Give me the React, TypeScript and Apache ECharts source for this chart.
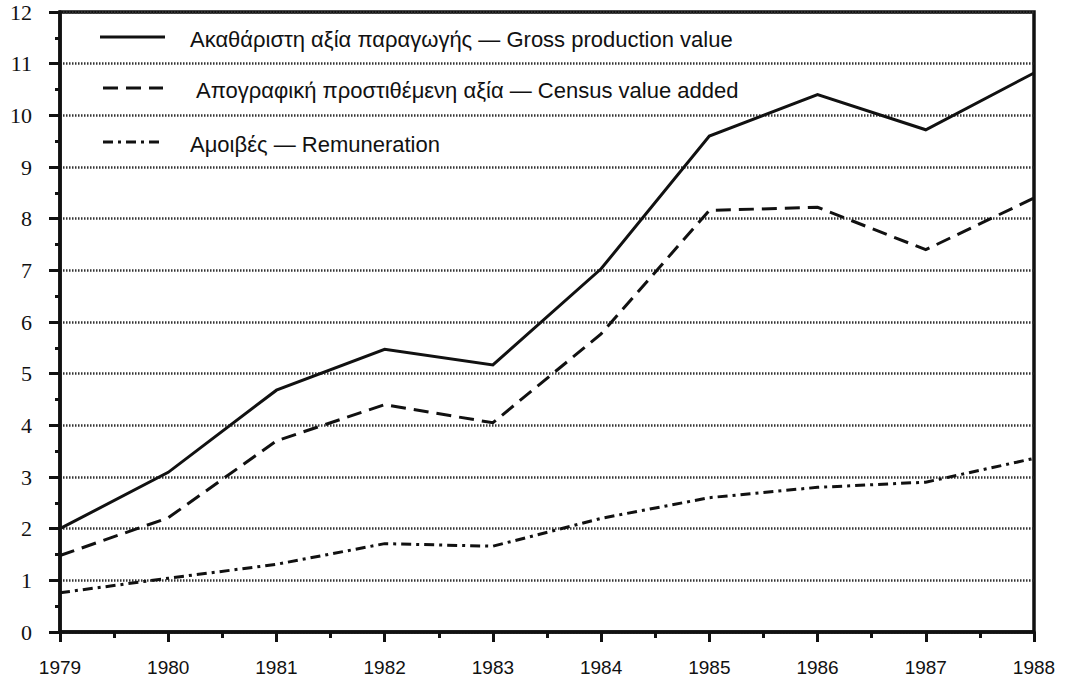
import React, { useEffect, useRef } from "react";
import * as echarts from "echarts";

const years = [1979, 1980, 1981, 1982, 1983, 1984, 1985, 1986, 1987, 1988];
const grossProduction = [2.0, 3.09, 4.68, 5.47, 5.17, 7.03, 9.6, 10.4, 9.72, 10.82];
const censusValueAdded = [1.48, 2.21, 3.7, 4.4, 4.05, 5.77, 8.16, 8.22, 7.4, 8.4];
const remuneration = [0.76, 1.04, 1.31, 1.71, 1.66, 2.2, 2.6, 2.8, 2.9, 3.36];
const seriesNames = [
  "Ακαθάριστη αξία παραγωγής — Gross production value",
  "Απογραφική προστιθέμενη αξία — Census value added",
  "Αμοιβές — Remuneration",
];
const yTickMin = 0;
const yTickMax = 12;

const INK = "#111";
const DASH = [15, 8];
const DASHDOT = [10, 5, 3, 5];

export default function App() {
  const ref = useRef<HTMLDivElement>(null);
  useEffect(() => {
    if (!ref.current) return;
    const chart = echarts.init(ref.current, null, { renderer: "svg" });
    const pairs = (arr: number[]) => years.map((y, i) => [y, arr[i]]);
    const styles = [
      { type: "solid" as any, dash: undefined as any },
      { type: DASH as any, dash: DASH },
      { type: DASHDOT as any, dash: DASHDOT },
    ];
    const dataSets = [grossProduction, censusValueAdded, remuneration];
    const legendY = [37, 88, 142];
    const legendLine = [
      [100, 165],
      [103, 163],
      [103, 163],
    ];
    const legendTextX = [190, 196, 190];
    const graphic: any[] = [];
    seriesNames.forEach((name, i) => {
      graphic.push({
        type: "line",
        z: 10,
        shape: { x1: legendLine[i][0], y1: legendY[i], x2: legendLine[i][1], y2: legendY[i] },
        style: { stroke: INK, lineWidth: 3, lineDash: styles[i].dash },
      });
      graphic.push({
        type: "text",
        z: 10,
        x: legendTextX[i],
        y: legendY[i] + 2,
        style: {
          text: name,
          fontSize: 22,
          fontFamily: "Liberation Sans",
          fill: INK,
          verticalAlign: "middle",
        },
      });
    });
    chart.setOption({
      animation: false,
      backgroundColor: "#ffffff",
      grid: {
        left: 60,
        right: 34,
        top: 12,
        bottom: 48,
        show: true,
        borderColor: INK,
        borderWidth: 3.5,
        backgroundColor: "transparent",
      },
      xAxis: {
        type: "value",
        min: years[0],
        max: years[years.length - 1],
        interval: 1,
        axisLine: { lineStyle: { color: INK, width: 3.5 } },
        axisTick: { length: 10, lineStyle: { color: INK, width: 3 } },
        minorTick: { show: true, splitNumber: 2, length: 6, lineStyle: { color: INK, width: 3 } },
        splitLine: { show: false },
        axisLabel: {
          formatter: (v: number) => String(v),
          margin: 26,
          fontSize: 19,
          fontFamily: "Liberation Sans",
          color: INK,
        },
      },
      yAxis: {
        type: "value",
        min: yTickMin,
        max: yTickMax,
        interval: 1,
        axisLine: { show: true, lineStyle: { color: INK, width: 3.5 } },
        axisTick: { show: true, length: 11, lineStyle: { color: INK, width: 3 } },
        minorTick: { show: true, splitNumber: 2, length: 5, lineStyle: { color: INK, width: 3 } },
        splitLine: { show: true, lineStyle: { color: "#333", width: 2.5, type: [1.5, 1.5] } },
        axisLabel: {
          margin: 28,
          fontSize: 22,
          fontFamily: "Liberation Serif",
          color: INK,
        },
      },
      series: dataSets.map((arr, i) => ({
        type: "line",
        name: seriesNames[i],
        data: pairs(arr),
        symbol: "none",
        z: 5,
        lineStyle: { color: INK, width: 3, type: styles[i].type, cap: "butt", join: "miter" },
      })),
      graphic,
    });
    return () => chart.dispose();
  }, []);
  return (
    <div
      ref={ref}
      style={{ position: "fixed", left: 0, top: 0, width: 1068, height: 680, background: "#fff" }}
    />
  );
}
